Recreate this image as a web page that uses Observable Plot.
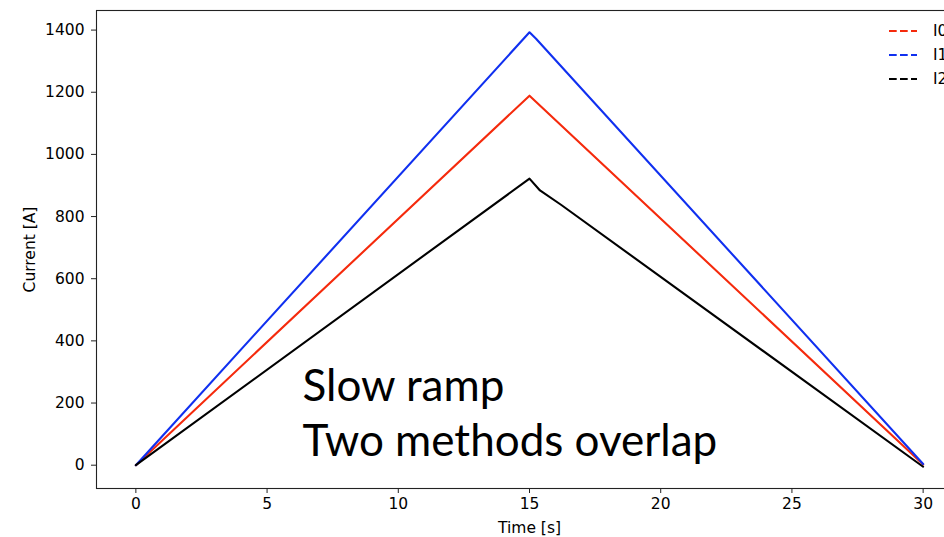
<!DOCTYPE html>
<html><head><meta charset="utf-8">
<script src="https://cdn.jsdelivr.net/npm/d3@7"></script>
<script src="https://cdn.jsdelivr.net/npm/@observablehq/plot@0.6"></script>
<style>
html,body{margin:0;padding:0;background:#fff;overflow:hidden;width:944px;height:537px}
#wrap{position:relative;width:944px;height:537px;overflow:hidden}
#wrap > svg{max-width:none !important;display:block}
#legend{position:absolute;left:889px;top:19px;font-family:"DejaVu Sans",sans-serif;font-size:15.5px;color:#000}
#legend .row{display:flex;align-items:center;height:24px;white-space:nowrap}
#legend svg{margin-right:16px}
</style></head><body><div id="wrap"><div id="legend"></div></div>
<script>
// series
const seriesNames = ["I0", "I1", "I2"];
const seriesColors = ["#f52a0c", "#1030f0", "#000000"];
const timeI0 = [0, 15, 30];
const valI0 = [0, 1189, 2];
const timeI1 = [0, 15, 15.25, 30];
const valI1 = [0, 1393, 1372, 4];
const timeI2 = [0, 15, 15.4, 16.2, 30];
const valI2 = [0, 922, 884, 838, -5];
// ticks
const xTicks = [0, 5, 10, 15, 20, 25, 30];
const yTicks = [0, 200, 400, 600, 800, 1000, 1200, 1400];
// annotation
const annotation = [
  {x: 6.35, y: 208, text: "Slow ramp"},
  {x: 6.35, y: 31, text: "Two methods overlap"}
];

const times = [timeI0, timeI1, timeI2];
const vals = [valI0, valI1, valI2];
const data = [];
seriesNames.forEach((name, i) => {
  times[i].forEach((t, j) => data.push({series: name, t, v: vals[i][j]}));
});

const chart = Plot.plot({
  width: 962,
  height: 537,
  marginLeft: 96,
  marginRight: 0,
  marginTop: 10,
  marginBottom: 49,
  style: {fontFamily: "DejaVu Sans", fontSize: "15.5px", background: "white", color: "black", maxWidth: "none"},
  x: {domain: [-1.5, 31.5]},
  y: {domain: [-75, 1463]},
  color: {domain: seriesNames, range: seriesColors},
  marks: [
    Plot.line(data, {x: "t", y: "v", z: "series", stroke: "series", strokeWidth: 2.1}),
    Plot.text(annotation, {x: "x", y: "y", text: "text", textAnchor: "start", lineAnchor: "bottom",
      fontFamily: "Lato", fontSize: 44, fill: "black"}),
    Plot.frame({stroke: "#222", strokeWidth: 1.1}),
    Plot.axisX(xTicks, {tickSize: 5, tickPadding: 4, stroke: "#222", tickFormat: d => String(d), label: "Time [s]", labelAnchor: "center", labelOffset: 44, labelArrow: "none"}),
    Plot.axisY(yTicks, {tickSize: 5, tickPadding: 7, stroke: "#222", tickFormat: d => String(d), label: "Current [A]", labelAnchor: "center", labelOffset: 73, labelArrow: "none"})
  ]
});
document.getElementById("wrap").prepend(chart);

const legend = document.getElementById("legend");
seriesNames.forEach((name, i) => {
  const row = document.createElement("div");
  row.className = "row";
  row.innerHTML = `<svg width="28" height="10"><line x1="0" y1="5" x2="28" y2="5" stroke="${seriesColors[i]}" stroke-width="2.1" stroke-dasharray="7.7,3.3"/></svg><span>${name}</span>`;
  legend.appendChild(row);
});
</script>
</body></html>
